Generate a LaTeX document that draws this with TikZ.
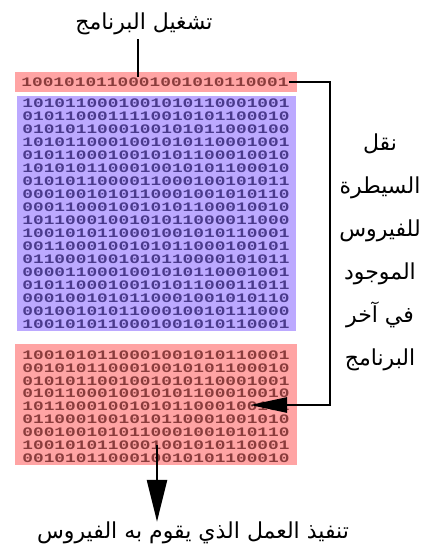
\documentclass[tikz,border=0pt]{standalone}
\usepackage{fontspec}
\usetikzlibrary{arrows.meta}
\TeXXeTstate=1
\newfontfamily\arabicfont[Script=Arabic]{DejaVu Sans}
\newfontfamily\bitfont[FakeStretch=1.37]{Liberation Mono}
\definecolor{jumpred}{HTML}{FFA4A4}
\definecolor{hostblue}{HTML}{BCA9FF}
\definecolor{jumpink}{HTML}{8A3C3C}
\definecolor{hostink}{HTML}{4A3A8C}
\newcommand{\artext}[1]{\beginR #1\endR}

\begin{document}
\begin{tikzpicture}[x=1pt, y=-1pt,
        bits/.style={font={\fontsize{13}{13}\bitfont\bfseries}, inner sep=0pt},
        arlabel/.style={font={\fontsize{22}{43}\arabicfont}, inner sep=0pt, align=center},
        wire/.style={line width=2.6pt}]
    \useasboundingbox (0,0) rectangle (426,554);

    \fill[jumpred] (15,72) rectangle (297,92);
    \fill[hostblue] (17,96) rectangle (296,331);
    \fill[jumpred] (15,344) rectangle (297,465);

    \node[bits, text=jumpink] (jmp) at (155,82) {1001010110001001010110001};
    \foreach \row [count=\i] in {1010110001001010110001001, 0101100011110010101100010,
            0101011000100101011000100, 1010110001001010110001001, 0101100010010101100010010,
            1010101100010010101100010, 0101011000011000100101011, 0001001010110001001010110,
            0001100010010101100010010, 1011000100101011000011000, 1001010110001001010110001,
            0011000100101011000100101, 0110001001010110000101011, 0000110001001010110001001,
            0101100010010101100011011, 0001001010110001001010110, 0010010101100010010111000,
            1001010110001001010110001}
        \node[bits, text=hostink] (host-\i) at (156, 90+13*\i) {\row};
    \foreach \row [count=\i] in {1001010110001001010110001, 0010101100010010101100010,
            0101011001001010110001001, 0101100010010101100010010, 1011000100101011000100101,
            0110001001010110001001010, 0001001010110001001010110, 1001010110001001010110001,
            0010101100010010101100010}
        \node[bits, text=jumpink] (virus-\i) at (156, 342.1+12.9*\i) {\row};

    \node[arlabel] (run) at (144,24) {\artext{تشغيل البرنامج}};
    \node[arlabel] (move) at (380,252) {\artext{نقل}\\ \artext{السيطرة}\\ \artext{للفيروس}\\
        \artext{الموجود}\\ \artext{في آخر}\\ \artext{البرنامج}};
    \node[arlabel] (payload) at (193,533) {\artext{تنفيذ العمل الذي يقوم به الفيروس}};

    \coordinate (turn) at (330,250);
    \coordinate (entry) at (250,405);
    \coordinate (exit) at (157,445);

    \draw[wire, shorten <=4pt] ([xshift=-6pt]run.south) -- ([xshift=-6pt]run.south |- jmp.north);
    \draw[wire, -{Triangle[length=37pt, width=15pt]}] (jmp.east) -| (turn) |- (entry);
    \draw[wire, -{Triangle[length=42pt, width=20pt]}] (exit) -- (exit |- payload.north);
\end{tikzpicture}
\end{document}
